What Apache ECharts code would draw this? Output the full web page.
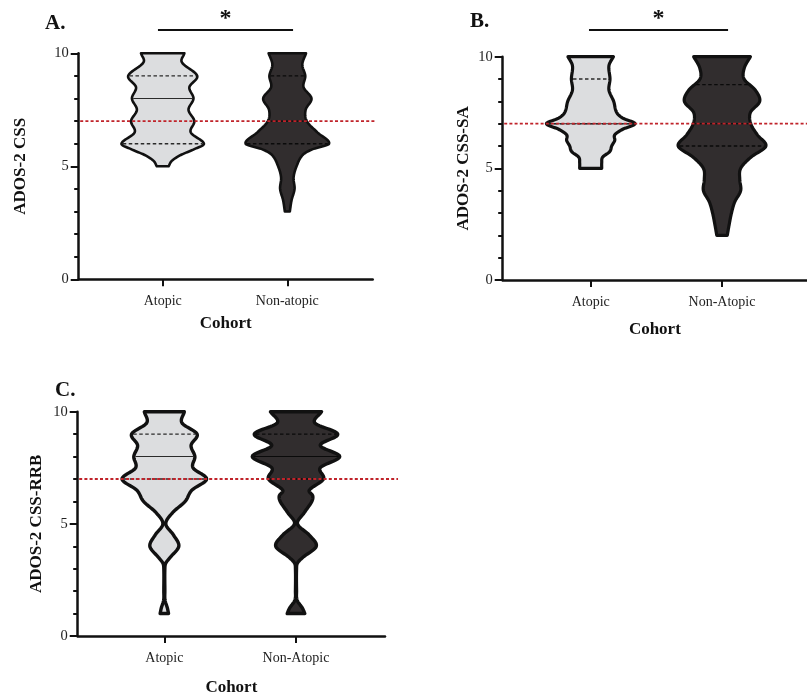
<!DOCTYPE html>
<html>
<head>
<meta charset="utf-8">
<script src="https://cdn.jsdelivr.net/npm/echarts@6/dist/echarts.min.js"></script>
<style>
html,body{margin:0;padding:0;background:#fff;}
#chart{width:807px;height:697px;}
</style>
</head>
<body>
<div id="chart"></div>
<script>
// ================= DATA =================
const CATS_A = ['Atopic', 'Non-atopic'];
const CATS_B = ['Atopic', 'Non-Atopic'];
const CATS_C = ['Atopic', 'Non-Atopic'];
const Y_TICKS = [0, 5, 10];
const CUTOFF = 7;
const SIG_LABEL = '*';

// Violin outlines: score level (y) and half-width of the density at that level (in category-axis units)
// Panel A  (ADOS-2 CSS)
const A_ATOPIC_Y = [10, 9.6, 9, 8.5, 8, 7.5, 7, 6.5, 6, 5.75, 5.5, 5.25, 5];
const A_ATOPIC_W = [0.174, 0.154, 0.277, 0.214, 0.247, 0.207, 0.254, 0.225, 0.331, 0.25, 0.145, 0.075, 0.047];
const A_ATOPIC_Q = [6, 8, 9];          // Q1, median, Q3
const A_NON_Y = [10, 9.5, 9, 8.5, 8, 7.5, 7, 6.5, 6, 5.75, 5.5, 5, 4.5, 4, 3.5, 3];
const A_NON_W = [0.150, 0.120, 0.144, 0.130, 0.194, 0.147, 0.156, 0.241, 0.335, 0.2, 0.123, 0.074, 0.050, 0.058, 0.034, 0.020];
const A_NON_Q = [6, 7, 9];

// Panel B  (ADOS-2 CSS-SA)
const B_ATOPIC_Y = [10, 9.6, 9, 8.5, 8, 7.5, 7.25, 7, 6.75, 6.5, 6.25, 6, 5.75, 5.5, 5.25, 5];
const B_ATOPIC_W = [0.173, 0.139, 0.147, 0.139, 0.175, 0.198, 0.244, 0.337, 0.244, 0.183, 0.183, 0.16, 0.145, 0.091, 0.084, 0.084];
const B_ATOPIC_Q = [7, 7, 9];
const B_NON_Y = [10, 9.5, 9, 8.5, 8, 7.5, 7, 6.5, 6, 5.5, 5, 4.5, 4, 3.5, 3, 2.5, 2];
const B_NON_W = [0.216, 0.170, 0.168, 0.254, 0.287, 0.216, 0.219, 0.269, 0.334, 0.22, 0.142, 0.135, 0.142, 0.097, 0.072, 0.055, 0.040];
const B_NON_Q = [6, 7, 8.75];

// Panel C  (ADOS-2 CSS-RRB)
const C_ATOPIC_Y = [10, 9.5, 9, 8.5, 8, 7.5, 7, 6.5, 6, 5.5, 5, 4.5, 4, 3.5, 3.25, 3, 2, 1.6, 1.25, 1];
const C_ATOPIC_W = [0.152, 0.134, 0.249, 0.203, 0.232, 0.218, 0.321, 0.209, 0.158, 0.063, 0.011, 0.070, 0.110, 0.044, 0.011, 0.004, 0.004, 0.005, 0.023, 0.032];
const C_ATOPIC_Q = [7, 8, 9];
const C_NON_Y = [10, 9.5, 9, 8.5, 8, 7.5, 7, 6.5, 6.25, 6, 5.5, 5, 4.5, 4, 3.5, 3.25, 3, 2, 1.6, 1.25, 1];
const C_NON_W = [0.194, 0.143, 0.317, 0.184, 0.332, 0.184, 0.209, 0.101, 0.127, 0.12, 0.063, 0.011, 0.101, 0.154, 0.051, 0.011, 0.004, 0.004, 0.008, 0.048, 0.067];
const C_NON_Q = [7, 8, 9];

// ================= LAYOUT / STYLE =================
const FONT = 'Liberation Serif';
const INK = '#111';
const FILLS = ['#dcdddf', '#312d2e'];
const QCOLORS = ['#2a2a2a', '#0a0a0a'];

const PANELS = [
  { title: 'A.', titlePos: [45, 13], yName: 'ADOS-2 CSS', cats: CATS_A,
    grid: { left: 78.7, top: 53.3, width: 294, height: 226 },
    xMin: 0.326, xMax: 2.685, refEnd: 2.705, yNameGap: 50, xNameGap: 36, stroke: 2.6,
    sig: { x: [0.962, 2.046], dy: 23.3 },
    violins: [ { y: A_ATOPIC_Y, w: A_ATOPIC_W, q: A_ATOPIC_Q }, { y: A_NON_Y, w: A_NON_W, q: A_NON_Q } ] },
  { title: 'B.', titlePos: [470, 11], yName: 'ADOS-2 CSS-SA', cats: CATS_B,
    grid: { left: 502.7, top: 56.7, width: 304.3, height: 223.3 },
    xMin: 0.330, xMax: 2.647, refEnd: 2.647, yNameGap: 31, xNameGap: 41.5, stroke: 3.2,
    sig: { x: [0.987, 2.046], dy: 26.7 },
    violins: [ { y: B_ATOPIC_Y, w: B_ATOPIC_W, q: B_ATOPIC_Q }, { y: B_NON_Y, w: B_NON_W, q: B_NON_Q } ] },
  { title: 'C.', titlePos: [55, 380], yName: 'ADOS-2 CSS-RRB', cats: CATS_C,
    grid: { left: 77.7, top: 411.7, width: 307.3, height: 226.6 },
    xMin: 0.342, xMax: 2.676, refEnd: 2.775, yNameGap: 32.5, xNameGap: 43, stroke: 3.4,
    sig: null,
    violins: [ { y: C_ATOPIC_Y, w: C_ATOPIC_W, q: C_ATOPIC_Q }, { y: C_NON_Y, w: C_NON_W, q: C_NON_Q } ] }
];

// ---------- smooth outline (cubic Hermite through the read points) ----------
function tangents(ys, ws) {
  const n = ys.length, m = [];
  for (let i = 0; i < n; i++) {
    if (i === 0) m.push((ws[1] - ws[0]) / (ys[1] - ys[0]));
    else if (i === n - 1) m.push((ws[n - 1] - ws[n - 2]) / (ys[n - 1] - ys[n - 2]));
    else m.push((ws[i + 1] - ws[i - 1]) / (ys[i + 1] - ys[i - 1]));
  }
  return m;
}
function hermite(ys, ws, m, i, t) {
  const h = ys[i + 1] - ys[i];
  const t2 = t * t, t3 = t2 * t;
  const w = (2 * t3 - 3 * t2 + 1) * ws[i] + (t3 - 2 * t2 + t) * h * m[i] +
            (-2 * t3 + 3 * t2) * ws[i + 1] + (t3 - t2) * h * m[i + 1];
  return Math.max(0, w);
}
function outline(ys, ws, steps) {
  const m = tangents(ys, ws), pts = [];
  for (let i = 0; i < ys.length - 1; i++) {
    for (let s = 0; s < steps; s++) {
      const t = s / steps;
      pts.push([ys[i] + (ys[i + 1] - ys[i]) * t, hermite(ys, ws, m, i, t)]);
    }
  }
  pts.push([ys[ys.length - 1], ws[ws.length - 1]]);
  return pts;
}
function widthAt(ys, ws, y) {
  const m = tangents(ys, ws);
  for (let i = 0; i < ys.length - 1; i++) {
    const a = ys[i], b = ys[i + 1];
    if ((y <= a && y >= b) || (y >= a && y <= b)) {
      const t = (y - a) / (b - a);
      return hermite(ys, ws, m, i, t);
    }
  }
  return 0;
}

function violinRenderer(panel) {
  return function (params, api) {
    const v = panel.violins[params.dataIndex];
    const cx = api.value(0);
    const pts = outline(v.y, v.w, 12);
    const left = pts.map(p => api.coord([cx - p[1], p[0]]));
    const right = pts.slice().reverse().map(p => api.coord([cx + p[1], p[0]]));
    const children = [{
      type: 'polygon',
      shape: { points: left.concat(right) },
      style: { fill: FILLS[params.dataIndex], stroke: INK, lineWidth: panel.stroke, lineJoin: 'round' }
    }];
    v.q.forEach((q, qi) => {
      const w = widthAt(v.y, v.w, q);
      const p1 = api.coord([cx - w, q]), p2 = api.coord([cx + w, q]);
      const inset = panel.stroke / 2;
      children.push({
        type: 'line',
        shape: { x1: p1[0] + inset, y1: p1[1], x2: p2[0] - inset, y2: p2[1] },
        style: { stroke: QCOLORS[params.dataIndex], lineWidth: qi === 1 ? 1.1 : 1.4, lineDash: qi === 1 ? null : [3.5, 2.5] }
      });
    });
    return { type: 'group', children };
  };
}

const grids = [], xAxes = [], yAxes = [], series = [], titles = [];
PANELS.forEach((p, gi) => {
  grids.push(Object.assign({}, p.grid));
  titles.push({ text: p.title, left: p.titlePos[0], top: p.titlePos[1], padding: 0,
    textStyle: { fontFamily: FONT, fontWeight: 'bold', fontSize: 21, color: INK } });
  xAxes.push({
    type: 'value', gridIndex: gi, min: p.xMin, max: p.xMax,
    name: 'Cohort', nameLocation: 'middle', nameGap: p.xNameGap,
    nameTextStyle: { fontFamily: FONT, fontWeight: 'bold', fontSize: 17, color: INK },
    axisLine: { show: true, onZero: false, lineStyle: { color: INK, width: 2.5 } },
    axisTick: { show: true, customValues: [1, 2], length: 7, lineStyle: { color: INK, width: 2 } },
    axisLabel: { show: true, customValues: [1, 2], margin: 15, formatter: v => p.cats[Math.round(v) - 1],
      fontFamily: FONT, fontSize: 14, color: '#222' },
    splitLine: { show: false }
  });
  yAxes.push({
    type: 'value', gridIndex: gi, min: Y_TICKS[0], max: Y_TICKS[Y_TICKS.length - 1], interval: Y_TICKS[1] - Y_TICKS[0],
    name: p.yName, nameLocation: 'middle', nameGap: p.yNameGap, nameRotate: 90,
    nameTextStyle: { fontFamily: FONT, fontWeight: 'bold', fontSize: 17, color: INK },
    axisLine: { show: true, onZero: false, lineStyle: { color: INK, width: 2.5 } },
    axisTick: { show: true, length: 8, lineStyle: { color: INK, width: 2 } },
    minorTick: { show: true, splitNumber: 5, length: 4.5, lineStyle: { color: INK, width: 2 } },
    axisLabel: { margin: 10, fontFamily: FONT, fontSize: 14.5, color: '#222' },
    splitLine: { show: false }, minorSplitLine: { show: false }
  });
  series.push({
    type: 'custom', xAxisIndex: gi, yAxisIndex: gi, z: 2, clip: false,
    data: [[1, 10], [2, 10]],
    renderItem: violinRenderer(p)
  });
  series.push({
    type: 'custom', xAxisIndex: gi, yAxisIndex: gi, z: 4, clip: false,
    data: [[1, CUTOFF]],
    renderItem: function (params, api) {
      const a = api.coord([p.xMin, api.value(1)]), b = api.coord([p.refEnd, api.value(1)]);
      return { type: 'line', shape: { x1: a[0] + 1.5, y1: a[1], x2: b[0], y2: b[1] },
        style: { stroke: '#c0232a', lineWidth: 1.8, lineDash: [3, 2.2] } };
    }
  });
  if (p.sig) {
    series.push({
      type: 'custom', xAxisIndex: gi, yAxisIndex: gi, z: 4, clip: false,
      data: [[p.sig.x[0], Y_TICKS[Y_TICKS.length - 1], p.sig.x[1]]],
      renderItem: function (params, api) {
        const a = api.coord([api.value(0), api.value(1)]), b = api.coord([api.value(2), api.value(1)]);
        const y = a[1] - p.sig.dy;
        return { type: 'group', children: [
          { type: 'line', shape: { x1: a[0], y1: y, x2: b[0], y2: y }, style: { stroke: INK, lineWidth: 2.2 } },
          { type: 'text', style: { text: SIG_LABEL, x: (a[0] + b[0]) / 2, y: y - 11, align: 'center', verticalAlign: 'middle',
              font: 'bold 24px "' + FONT + '"', fill: INK } }
        ] };
      }
    });
  }
});

const chart = echarts.init(document.getElementById('chart'), null, { renderer: 'canvas' });
chart.setOption({
  animation: false,
  backgroundColor: '#fff',
  title: titles,
  grid: grids,
  xAxis: xAxes,
  yAxis: yAxes,
  series: series
});
</script>
</body>
</html>
